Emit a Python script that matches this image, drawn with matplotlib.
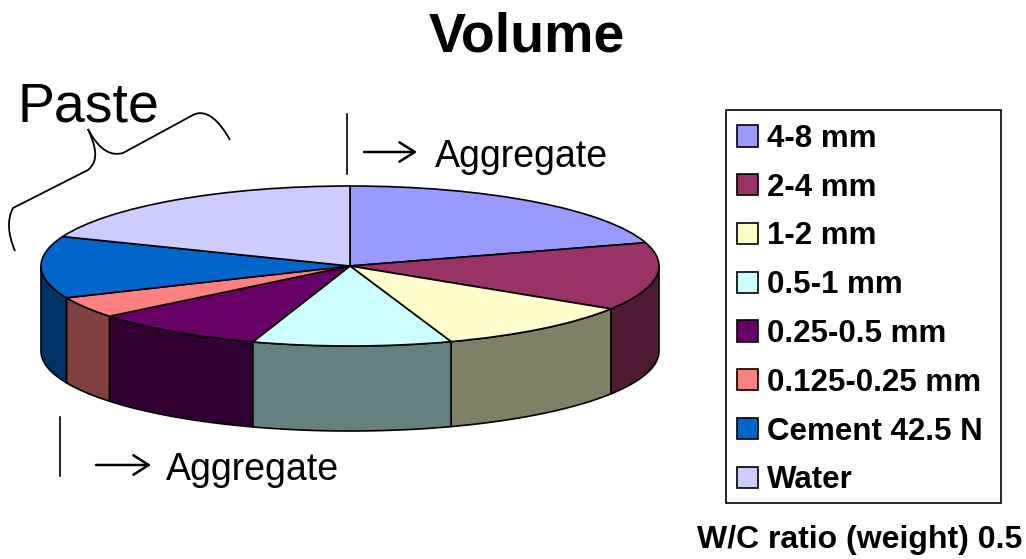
import numpy as np
import matplotlib.pyplot as plt
from matplotlib.path import Path
from matplotlib.patches import PathPatch, Rectangle

plt.rcParams['font.family'] = ['Liberation Sans', 'DejaVu Sans']

# Volume shares (percent)
categories = ['4-8 mm', '2-4 mm', '1-2 mm', '0.5-1 mm', '0.25-0.5 mm',
              '0.125-0.25 mm', 'Cement 42.5 N', 'Water']
shares = [20.3, 13.7, 10.7, 10.4, 9.1, 4.3, 12.5, 19.0]
top_colors = ['#9999FF', '#993366', '#FFFFCC', '#CCFFFF', '#660066',
              '#FF8080', '#0066CC', '#CCCCFF']
side_colors = ['#4D4D80', '#4D1A33', '#808066', '#668080', '#330033',
               '#804040', '#003366', '#666680']

W, H = 1026, 559
CX, CY, RX, RY, DEPTH = 350, 266, 309, 80, 85

fig = plt.figure(figsize=(W / 100, H / 100), dpi=100)

# Pie axes fills the figure, limits make the unit circle a flat ellipse
ax = fig.add_axes([0, 0, 1, 1])

# Sides first, only the front half of the rim can be seen
edges = np.concatenate([[0], np.cumsum(shares)]) / np.sum(shares) * 360
for i in range(len(shares)):
    a0, a1 = max(edges[i], 90), min(edges[i + 1], 270)
    if a1 <= a0:
        continue
    t = np.radians(np.linspace(a0, a1, 60))
    x, y = np.sin(t), np.cos(t)
    d = DEPTH / RY
    ax.fill(np.r_[x, x[::-1]], np.r_[y, y[::-1] - d], facecolor=side_colors[i],
            edgecolor='black', linewidth=1.2, zorder=1)

wedges, _ = ax.pie(shares, colors=top_colors, startangle=90, counterclock=False,
                   radius=1, wedgeprops={'edgecolor': 'black', 'linewidth': 1.2})
for w in wedges:
    w.set_zorder(2)
ax.set_aspect('auto')
ax.set_xlim(-CX / RX, (W - CX) / RX)
ax.set_ylim((CY - H) / RY, CY / RY)
ax.axis('off')

# Overlay in picture coordinates for the notes
ov = fig.add_axes([0, 0, 1, 1], facecolor='none')
ov.set_xlim(0, W)
ov.set_ylim(H, 0)
ov.axis('off')

ov.text(527, 37, 'Volume', fontsize=40, fontweight='bold', ha='center', va='center')
ov.text(17, 122, 'Paste', fontsize=40, ha='left', va='baseline')
ov.text(435, 167, 'Aggregate', fontsize=27, ha='left', va='baseline')
ov.text(166, 480, 'Aggregate', fontsize=27, ha='left', va='baseline')
ov.text(1022, 548, 'W/C ratio (weight) 0.5', fontsize=23, fontweight='bold',
        ha='right', va='baseline')

ov.plot([347, 347], [114, 174], color='black', lw=1.2)
ov.plot([59.5, 59.5], [417, 476], color='black', lw=1.2)
for x0, x1, yy in [(364, 417, 152), (96, 151, 465)]:
    ov.annotate('', xy=(x1, yy), xytext=(x0, yy),
                arrowprops=dict(arrowstyle='->,head_length=1.1,head_width=0.7',
                                lw=1.8, color='black', shrinkA=0, shrinkB=0))

# Hand drawn brace over the paste slices
brace = [(15, 251), (4, 225), (13, 208), (88, 170), (100, 160), (95, 145), (88, 129),
         (100, 152), (112, 156), (123, 153), (193, 115), (207, 108), (220, 122), (230, 140)]
codes = [Path.MOVETO, Path.CURVE3, Path.CURVE3, Path.LINETO, Path.CURVE4, Path.CURVE4, Path.CURVE4,
         Path.CURVE4, Path.CURVE4, Path.CURVE4, Path.LINETO, Path.CURVE4, Path.CURVE4, Path.CURVE4]
ov.add_patch(PathPatch(Path(brace, codes), facecolor='none', edgecolor='black', lw=1.3))

# Legend box
ov.add_patch(Rectangle((726, 110), 275, 393, facecolor='white', edgecolor='black', lw=1.2, zorder=1))
leg = ov.legend(wedges, categories, loc='upper left', bbox_to_anchor=(737 / W, 1 - 124 / H),
                bbox_transform=fig.transFigure, frameon=False, borderpad=0, borderaxespad=0,
                handlelength=0.67, handleheight=0.67, handletextpad=0.29, labelspacing=0.6,
                prop={'size': 22.5, 'weight': 'bold'})
leg.set_zorder(3)

fig.savefig('out.png', dpi=100)
